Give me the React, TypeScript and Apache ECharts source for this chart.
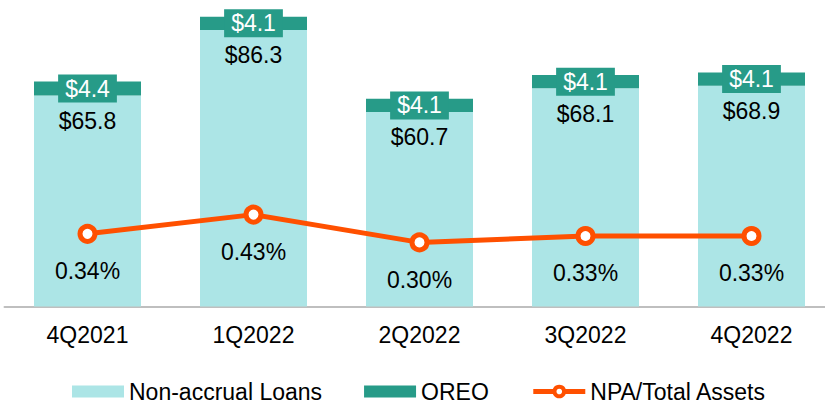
import React, { useEffect, useRef } from "react";
import * as echarts from "echarts";

const categories = ["4Q2021", "1Q2022", "2Q2022", "3Q2022", "4Q2022"];
const nonAccrual = [65.8, 86.3, 60.7, 68.1, 68.9];
const oreo = [4.4, 4.1, 4.1, 4.1, 4.1];
const npaRatio = [0.34, 0.43, 0.3, 0.33, 0.33];

const FONT = "'Liberation Sans', Arial, sans-serif";
const LIGHT = "#ACE5E6";
const TEAL = "#279B88";
const ORANGE = "#FF5000";

export default function App() {
  const ref = useRef<HTMLDivElement>(null);
  useEffect(() => {
    if (!ref.current) return;
    const chart = echarts.init(ref.current, undefined, { renderer: "svg" });
    chart.setOption({
      animation: false,
      textStyle: { fontFamily: FONT },
      grid: { left: 4.5, right: -9.5, top: -14, bottom: 98.5, outerBoundsMode: "none", containLabel: false },
      legend: {
        left: 67,
        top: 375,
        itemGap: 42,
        itemWidth: 52,
        itemHeight: 12,
        textStyle: { fontSize: 23, color: "#000", fontFamily: FONT },
        data: [
          { name: "Non-accrual Loans", icon: "rect" },
          { name: "OREO", icon: "rect" },
          {
            name: "NPA/Total Assets",
            lineStyle: { width: 5, color: ORANGE },
            itemStyle: { color: "#fff", borderColor: ORANGE, borderWidth: 4 },
          },
        ],
      },
      xAxis: {
        type: "category",
        data: categories,
        axisTick: { show: false },
        axisLine: { lineStyle: { color: "#BFBFBF", width: 2 } },
        axisLabel: { fontSize: 23, color: "#000", margin: 17, fontFamily: FONT },
      },
      yAxis: [
        { type: "value", min: 0, max: 100, show: false, splitLine: { show: false } },
        { type: "value", min: 0, max: 1.5, show: false, splitLine: { show: false } },
      ],
      series: [
        {
          name: "Non-accrual Loans",
          type: "bar",
          stack: "npa",
          barWidth: 107,
          data: nonAccrual,
          itemStyle: { color: LIGHT },
          label: {
            show: true,
            position: "insideTop",
            distance: 14,
            fontSize: 23,
            color: "#000",
            fontFamily: FONT,
            formatter: (p: any) => "$" + p.value.toFixed(1),
          },
        },
        {
          name: "OREO",
          type: "bar",
          stack: "npa",
          barWidth: 107,
          data: oreo,
          itemStyle: { color: TEAL },
          label: {
            show: true,
            position: "inside",
            fontSize: 23,
            color: "#fff",
            fontFamily: FONT,
            backgroundColor: TEAL,
            padding: [3, 7, 2, 7],
            lineHeight: 23,
            formatter: (p: any) => "$" + p.value.toFixed(1),
          },
        },
        {
          name: "NPA/Total Assets",
          type: "line",
          yAxisIndex: 1,
          data: npaRatio,
          symbol: "circle",
          symbolSize: 15,
          lineStyle: { color: ORANGE, width: 5 },
          itemStyle: { color: "#fff", borderColor: ORANGE, borderWidth: 5 },
          label: {
            show: true,
            position: "bottom",
            distance: 16,
            fontSize: 23,
            color: "#000",
            fontFamily: FONT,
            formatter: (p: any) => p.value.toFixed(2) + "%",
          },
          z: 5,
        },
      ],
    });
    return () => chart.dispose();
  }, []);
  return <div ref={ref} style={{ width: 825, height: 405, position: "absolute", left: 0, top: 0 }} />;
}
